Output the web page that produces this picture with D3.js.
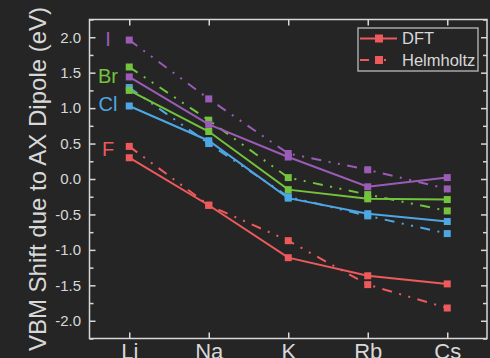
<!DOCTYPE html>
<html>
<head>
<meta charset="utf-8">
<script src="https://cdn.jsdelivr.net/npm/d3@7"></script>
<style>
  html, body { margin: 0; padding: 0; background: #252525; }
  svg { display: block; font-family: "Liberation Sans", Arial, sans-serif; }
</style>
</head>
<body>
<svg id="chart" width="490" height="358"></svg>
<script>
// ---- data ----
const categories = ["Li", "Na", "K", "Rb", "Cs"];
const halides = ["F", "Cl", "Br", "I"];
const dftF  = [0.30, -0.37, -1.11, -1.365, -1.48];
const helmF = [0.46, -0.37, -0.87, -1.49, -1.82];
const dftCl  = [1.03, 0.54, -0.27, -0.49, -0.60];
const helmCl = [1.29, 0.50, -0.25, -0.52, -0.77];
const dftBr  = [1.25, 0.67, -0.15, -0.28, -0.29];
const helmBr = [1.58, 0.83, 0.02, -0.22, -0.45];
const dftI  = [1.44, 0.77, 0.31, -0.11, 0.02];
const helmI = [1.96, 1.13, 0.36, 0.13, -0.14];
const yTicks = [-2.0, -1.5, -1.0, -0.5, 0.0, 0.5, 1.0, 1.5, 2.0];
const legendLabels = ["DFT", "Helmholtz"];
const yTitle = "VBM Shift due to AX Dipole (eV)";

const colors = { F: "#ee5a5c", Cl: "#4da7e4", Br: "#73c33c", I: "#9b5cb7" };
const seriesDFT = { F: dftF, Cl: dftCl, Br: dftBr, I: dftI };
const seriesHelm = { F: helmF, Cl: helmCl, Br: helmBr, I: helmI };
const labelPos = { F: 0.43, Cl: 1.06, Br: 1.45, I: 1.97 };

// ---- layout ----
const svg = d3.select("#chart");
const L = 89.5, R = 487, T = 19.5, B = 338.5;
const axisColor = "#d8d8d8";
const helmDash = "10,7.5,2,7.5,2,7.5";

const x = d3.scalePoint().domain(categories).range([L, R]).padding(0.5);
const y = d3.scaleLinear().domain([-2.25, 2.25]).range([B, T]);

// lines & markers
const line = d3.line().x((d, i) => x(categories[i])).y(d => y(d));
const g = svg.append("g");
halides.forEach(h => {
  const c = colors[h];
  // Helmholtz
  g.append("path").attr("d", line(seriesHelm[h])).attr("fill", "none")
    .attr("stroke", c).attr("stroke-width", 2).attr("stroke-dasharray", helmDash);
  g.selectAll(null).data(seriesHelm[h]).enter().append("rect")
    .attr("x", (d, i) => x(categories[i]) - 3.5).attr("y", d => y(d) - 3.5)
    .attr("width", 7).attr("height", 7).attr("fill", c);
  // DFT
  g.append("path").attr("d", line(seriesDFT[h])).attr("fill", "none")
    .attr("stroke", c).attr("stroke-width", 2);
  g.selectAll(null).data(seriesDFT[h]).enter().append("rect")
    .attr("x", (d, i) => x(categories[i]) - 3.5).attr("y", d => y(d) - 3.5)
    .attr("width", 7).attr("height", 7).attr("fill", c);
  // halide label
  svg.append("text").attr("x", 108).attr("y", y(labelPos[h])).attr("dy", "0.35em")
    .attr("text-anchor", "middle").attr("fill", c).attr("font-size", 20).text(h);
});

// frame
svg.append("rect").attr("x", L).attr("y", T).attr("width", R - L).attr("height", B - T)
  .attr("fill", "none").attr("stroke", axisColor).attr("stroke-width", 1.5);

// y axis (left) ticks inward
const minor = d3.range(-2.25, 2.2501, 0.25).filter(v => Math.abs(v * 2 - Math.round(v * 2)) > 1e-6);
const yAxisL = d3.axisLeft(y).tickValues(yTicks).tickSize(-6).tickPadding(8.5)
  .tickFormat(d => d.toFixed(1));
const gl = svg.append("g").attr("transform", `translate(${L},0)`).call(yAxisL);
gl.select(".domain").remove();
gl.selectAll("line").attr("stroke", axisColor).attr("stroke-width", 1.5);
gl.selectAll("text").attr("fill", axisColor).attr("font-size", 15)
  .attr("font-family", "Liberation Sans, Arial, sans-serif");
const glm = svg.append("g").attr("transform", `translate(${L},0)`)
  .call(d3.axisLeft(y).tickValues(minor).tickSize(-4).tickFormat(""));
glm.select(".domain").remove();
glm.selectAll("line").attr("stroke", axisColor).attr("stroke-width", 1.5);

// right axis ticks inward
const gr = svg.append("g").attr("transform", `translate(${R},0)`)
  .call(d3.axisRight(y).tickValues(yTicks).tickSize(-6).tickFormat(""));
gr.select(".domain").remove();
gr.selectAll("line").attr("stroke", axisColor).attr("stroke-width", 1.5);
const grm = svg.append("g").attr("transform", `translate(${R},0)`)
  .call(d3.axisRight(y).tickValues(minor).tickSize(-4).tickFormat(""));
grm.select(".domain").remove();
grm.selectAll("line").attr("stroke", axisColor).attr("stroke-width", 1.5);

// bottom axis
const gb = svg.append("g").attr("transform", `translate(0,${B})`)
  .call(d3.axisBottom(x).tickSize(-6).tickPadding(14));
gb.select(".domain").remove();
gb.selectAll("line").attr("stroke", axisColor).attr("stroke-width", 1.5);
gb.selectAll("text").attr("fill", axisColor).attr("font-size", 22)
  .attr("dy", null).attr("y", 20.5)
  .attr("font-family", "Liberation Sans, Arial, sans-serif");

// top axis
const gt = svg.append("g").attr("transform", `translate(0,${T})`)
  .call(d3.axisTop(x).tickSize(-6).tickFormat(""));
gt.select(".domain").remove();
gt.selectAll("line").attr("stroke", axisColor).attr("stroke-width", 1.5);

// y title
svg.append("text").attr("transform", `translate(46,${(T + B) / 2}) rotate(-90)`)
  .attr("text-anchor", "middle").attr("fill", axisColor).attr("font-size", 24).text(yTitle);

// legend
const lg = svg.append("g");
lg.append("rect").attr("x", 358).attr("y", 28).attr("width", 120).attr("height", 43)
  .attr("fill", "#252525").attr("stroke", "#a8a8a8").attr("stroke-width", 1.5);
const legC = colors.F;
const rows = [38.5, 60];
legendLabels.forEach((lab, i) => {
  const yy = rows[i];
  if (i === 0) {
    lg.append("line").attr("x1", 360).attr("x2", 397).attr("y1", yy).attr("y2", yy)
      .attr("stroke", legC).attr("stroke-width", 2);
  } else {
    lg.append("line").attr("x1", 360).attr("x2", 397).attr("y1", yy).attr("y2", yy)
      .attr("stroke", legC).attr("stroke-width", 2).attr("stroke-dasharray", "9,7,2,6,2,20");
  }
  lg.append("rect").attr("x", 375).attr("y", yy - 4).attr("width", 8).attr("height", 8).attr("fill", legC);
  lg.append("text").attr("x", 402).attr("y", yy).attr("dy", "0.35em")
    .attr("fill", axisColor).attr("font-size", 16.5).text(lab);
});
</script>
</body>
</html>
